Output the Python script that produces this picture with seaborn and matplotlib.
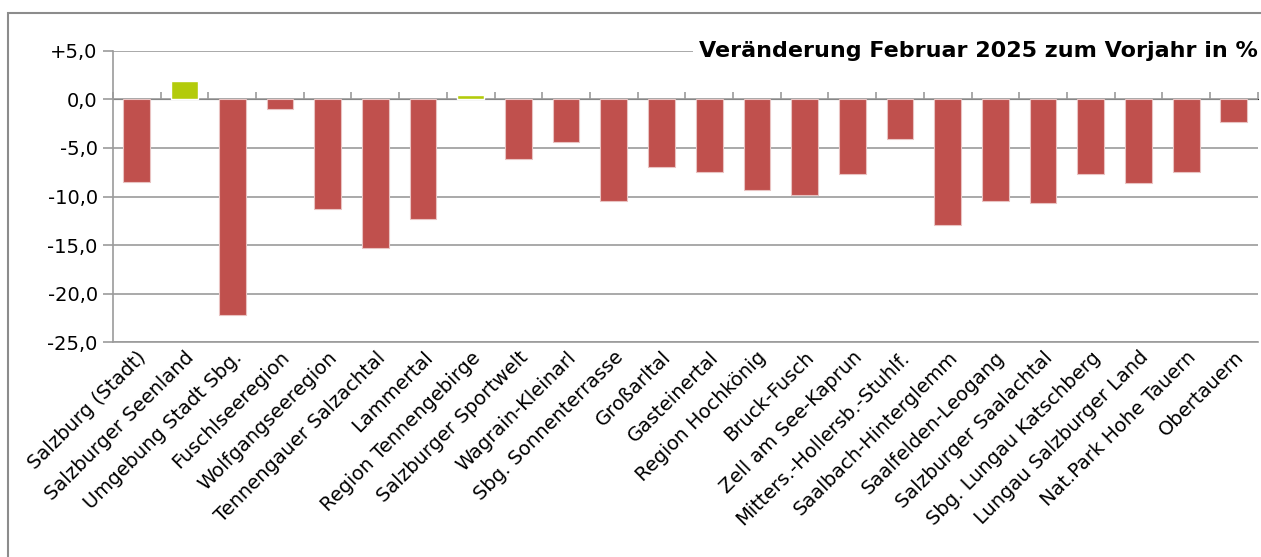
import pandas as pd
import matplotlib.pyplot as plt
import seaborn as sns
from matplotlib.patches import Rectangle
from matplotlib.ticker import FuncFormatter

# data
regions = [
    "Salzburg (Stadt)", "Salzburger Seenland", "Umgebung Stadt Sbg.", "Fuschlseeregion",
    "Wolfgangseeregion", "Tennengauer Salzachtal", "Lammertal", "Region Tennengebirge",
    "Salzburger Sportwelt", "Wagrain-Kleinarl", "Sbg. Sonnenterrasse", "Großarltal",
    "Gasteinertal", "Region Hochkönig", "Bruck-Fusch", "Zell am See-Kaprun",
    "Mitters.-Hollersb.-Stuhlf.", "Saalbach-Hinterglemm", "Saalfelden-Leogang",
    "Salzburger Saalachtal", "Sbg. Lungau Katschberg", "Lungau Salzburger Land",
    "Nat.Park Hohe Tauern", "Obertauern",
]
change = [-8.5, 1.9, -22.2, -1.0, -11.3, -15.3, -12.3, 0.4, -6.1, -4.4, -10.5, -7.0,
          -7.5, -9.3, -9.8, -7.7, -4.1, -12.9, -10.5, -10.7, -7.7, -8.6, -7.5, -2.3]
yticks = [5, 0, -5, -10, -15, -20, -25]
title = "Veränderung Februar 2025 zum Vorjahr in %"

df = pd.DataFrame({"region": regions, "change": change})
df["sign"] = ["up" if v > 0 else "down" for v in df["change"]]

sns.set_style("white")
plt.rcParams["font.family"] = ["DejaVu Sans"]
plt.rcParams["text.color"] = "black"
plt.rcParams["xtick.color"] = "black"
plt.rcParams["ytick.color"] = "black"

fig = plt.figure(figsize=(12.61, 5.57), dpi=100)
ax = fig.add_axes([113 / 1261, 1 - 342.3 / 557, (1257.7 - 113) / 1261, (342.3 - 50.7) / 557])

sns.barplot(data=df, x="region", y="change", hue="sign",
            palette={"up": "#B3CB0A", "down": "#C0504D"}, saturation=1,
            width=0.56, dodge=False, legend=False, ax=ax, zorder=3)
for p in ax.patches:
    if p.get_height() < 0:
        p.set_edgecolor("#E9C3C2")
        p.set_linewidth(0.8)

grid_c = "#9B9B9B"
ax.set_ylim(-25, 5)
ax.set_xlim(-0.5, len(regions) - 0.5)
ax.set_yticks(yticks)
ax.yaxis.set_major_formatter(FuncFormatter(lambda v, _: ("+" if v > 0 else "") + f"{v:.1f}".replace(".", ",")))
ax.tick_params(axis="y", labelsize=14, length=7, width=1.2, color=grid_c, labelcolor="black", pad=4, left=True)
ax.yaxis.grid(True, color=grid_c, linewidth=1.2, zorder=0)
ax.set_axisbelow(True)

ax.set_xticks(range(len(regions)))
ax.set_xticklabels(regions, rotation=45, ha="right", va="top", rotation_mode="anchor")
ax.tick_params(axis="x", labelsize=14, length=0, pad=4, labelcolor="black")
ax.set_xlabel("")
ax.set_ylabel("")

for s in ["top", "right"]:
    ax.spines[s].set_visible(False)
for s in ["left", "bottom"]:
    ax.spines[s].set_color(grid_c)
    ax.spines[s].set_linewidth(1.2)

# zero line with category separators
zero = ax.secondary_xaxis(25 / 30)
zero.set_xticks([i - 0.5 for i in range(len(regions) + 1)])
zero.set_xticklabels([])
zero.tick_params(length=5, width=1.2, color=grid_c, direction="out")
zero.spines["bottom"].set_color("#8C8C8C")
zero.spines["bottom"].set_linewidth(1.5)

ax.text(1.0, 5, title, transform=ax.get_yaxis_transform(), ha="right", va="center",
        fontsize=16, fontweight="bold", color="black",
        bbox=dict(facecolor="white", edgecolor="none", pad=4), zorder=5)

# outer chart frame
fig.patches.append(Rectangle((8 / 1261, -0.1), 1.2, 1 - 13 / 557 + 0.1, transform=fig.transFigure,
                             fill=False, edgecolor="#8C8C8C", linewidth=1.5))

plt.savefig("out.png", dpi=100)
